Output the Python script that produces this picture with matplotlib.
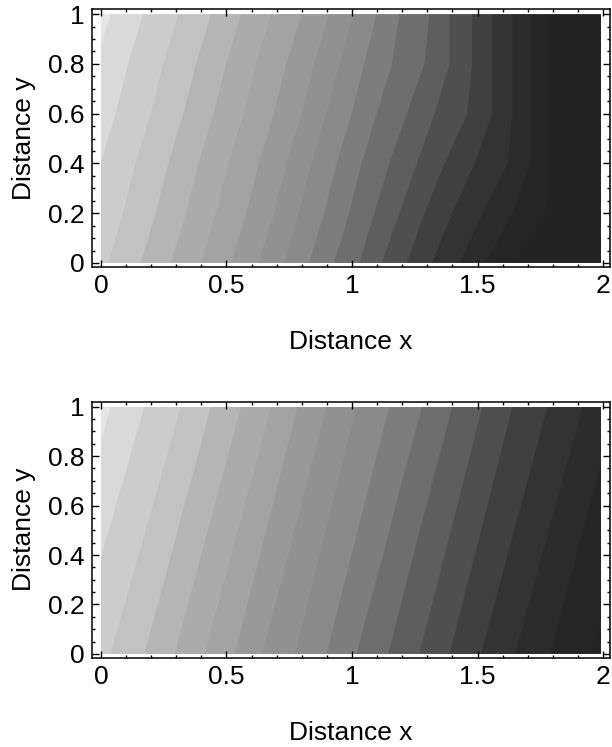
import matplotlib
matplotlib.use("Agg")
import matplotlib.pyplot as plt
from matplotlib.patches import Rectangle
from matplotlib.ticker import MultipleLocator

plt.rcParams['font.family'] = ['Liberation Sans', 'DejaVu Sans']

# Contour boundaries of the upper field: x position of each level line at the y grid
top_y = [0.0, 0.2, 0.4, 0.6, 0.8, 1.0]
top_bounds = [
    [-0.24, -0.18, -0.13, -0.07, -0.02, 0.04],
    [-0.11, -0.05, 0.00, 0.06, 0.11, 0.17],
    [0.03, 0.09, 0.14, 0.20, 0.25, 0.31],
    [0.16, 0.22, 0.27, 0.33, 0.38, 0.44],
    [0.28, 0.34, 0.39, 0.45, 0.50, 0.56],
    [0.40, 0.46, 0.51, 0.57, 0.62, 0.68],
    [0.52, 0.58, 0.63, 0.69, 0.74, 0.80],
    [0.63, 0.69, 0.74, 0.80, 0.85, 0.91],
    [0.73, 0.79, 0.84, 0.90, 0.95, 1.01],
    [0.83, 0.89, 0.94, 1.00, 1.05, 1.10],
    [0.93, 0.99, 1.04, 1.10, 1.16, 1.19],
    [1.03, 1.09, 1.15, 1.22, 1.29, 1.31],
    [1.12, 1.19, 1.26, 1.33, 1.39, 1.39],
    [1.22, 1.29, 1.37, 1.46, 1.48, 1.48],
    [1.32, 1.40, 1.49, 1.56, 1.56, 1.56],
    [1.43, 1.52, 1.62, 1.64, 1.64, 1.64],
    [1.53, 1.64, 1.71, 1.71, 1.71, 1.71],
    [1.64, 1.77, 1.78, 1.78, 1.78, 1.78],
]

# Lower field: straight level lines, x at y=0 and at y=1
bottom_y = [0.0, 1.0]
bottom_x_at_y0 = [-0.24, -0.11, 0.04, 0.175, 0.295, 0.415, 0.535, 0.645, 0.775,
                  0.90, 1.02, 1.145, 1.27, 1.39, 1.515, 1.65, 1.79, 1.95]
bottom_x_at_y1 = [0.04, 0.175, 0.32, 0.44, 0.56, 0.68, 0.785, 0.90, 1.02,
                  1.15, 1.28, 1.40, 1.52, 1.64, 1.78, 1.92, 2.05, 2.20]

# Gray level of each band, light (low) to dark (high)
band_gray = [0.90, 0.85, 0.80, 0.76, 0.71, 0.67, 0.64, 0.60, 0.57, 0.54,
             0.49, 0.43, 0.37, 0.31, 0.25, 0.20, 0.17, 0.15, 0.14]

x_ticks = [0, 0.5, 1, 1.5, 2]
x_tick_labels = ["0", "0.5", "1", "1.5", "2"]
y_ticks = [0, 0.2, 0.4, 0.6, 0.8, 1]
y_tick_labels = ["0", "0.2", "0.4", "0.6", "0.8", "1"]

FS = 19


def draw_bands(ax, ys, bounds):
    edges = [[-1.0] * len(ys)] + [list(b) for b in bounds] + [[3.0] * len(ys)]
    clip = Rectangle((0, 0), 1.99, 1, transform=ax.transData)
    for i, g in enumerate(band_gray):
        left, right = edges[i], edges[i + 1]
        xs = left + right[::-1]
        yy = list(ys) + list(ys)[::-1]
        c = str(g)
        poly = ax.fill(xs, yy, facecolor=c, edgecolor=c, lw=0.6)[0]
        poly.set_clip_path(clip)


def style_frame(ax):
    ax.set_xlim(-0.037, 2.028)
    ax.set_ylim(-0.015, 1.02)
    ax.set_xticks(x_ticks, x_tick_labels)
    ax.set_yticks(y_ticks, y_tick_labels)
    ax.xaxis.set_minor_locator(MultipleLocator(0.1))
    ax.yaxis.set_minor_locator(MultipleLocator(0.05))
    ax.tick_params(which="both", direction="in", top=True, right=True,
                   width=1.0, labelsize=FS, pad=5)
    ax.tick_params(which="major", length=5)
    ax.tick_params(which="minor", length=2.5)
    for s in ax.spines.values():
        s.set_linewidth(1.1)
    ax.set_xlabel("Distance x", fontsize=FS, labelpad=23)
    ax.set_ylabel("Distance y", fontsize=FS, labelpad=9)


fig = plt.figure(figsize=(6.12, 7.47), dpi=100)
ax_top = fig.add_axes([0.1498, 0.643, 0.847, 0.3447])
ax_bot = fig.add_axes([0.1498, 0.1196, 0.847, 0.3427])

draw_bands(ax_top, top_y, top_bounds)
draw_bands(ax_bot, bottom_y, list(zip(bottom_x_at_y0, bottom_x_at_y1)))

for ax in (ax_top, ax_bot):
    style_frame(ax)

fig.savefig("out.png", dpi=100)
plt.close(fig)
